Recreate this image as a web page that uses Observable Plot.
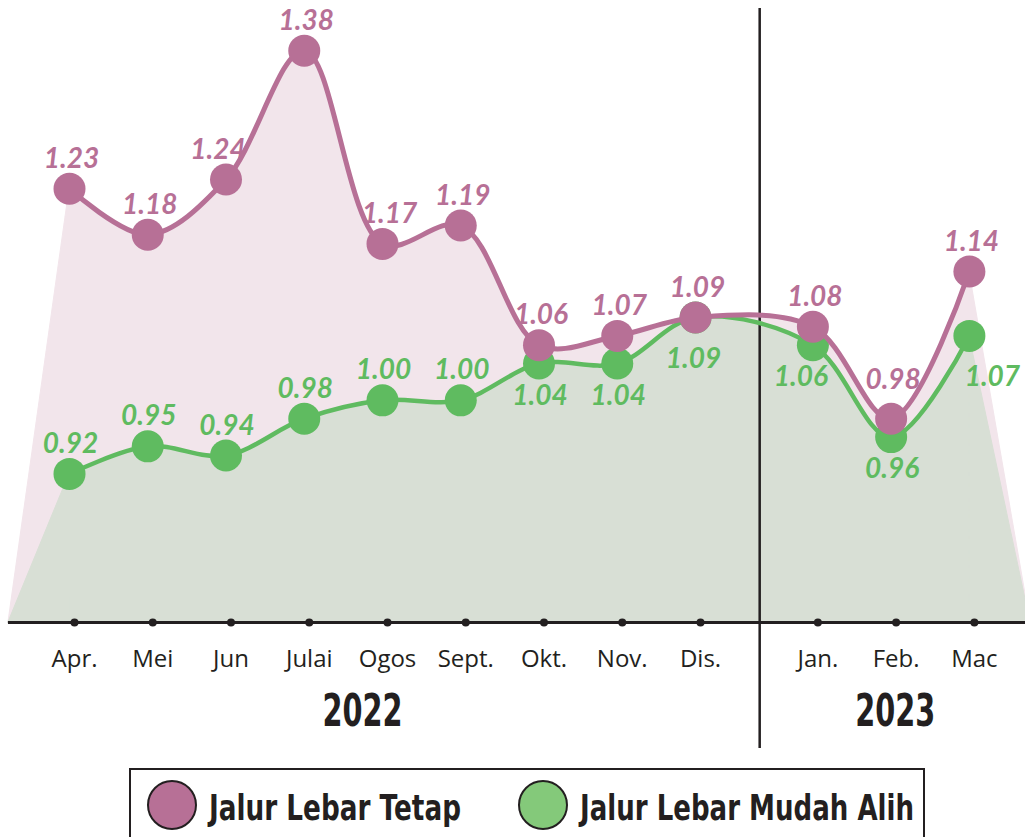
<!DOCTYPE html>
<html>
<head>
<meta charset="utf-8">
<script src="https://cdn.jsdelivr.net/npm/d3@7"></script>
<script src="https://cdn.jsdelivr.net/npm/@observablehq/plot@0.6"></script>
<style>
  html, body { margin: 0; padding: 0; background: #fff; overflow: hidden; }
  #chart svg { display: block; }
  #legend { position: relative; margin-left: 129px; width: 796px; height: 90px; box-sizing: border-box;
            border: 2.5px solid #231f20; }
  #legend .sw { position: absolute; top: 9.5px; width: 46px; height: 46px; border-radius: 50%; border: 2px solid #231f20; }
  #legend .lab { position: absolute; top: 20px; font-family: "DejaVu Sans", sans-serif;
                 font-weight: 700; font-size: 35px; line-height: 36px; color: #231f20; white-space: nowrap;
                 display: inline-block; transform-origin: 0 50%; }
</style>
</head>
<body>
<div id="chart"></div>
<div id="legend"></div>
<script>
// ---- data ----
const months = ["Apr.", "Mei", "Jun", "Julai", "Ogos", "Sept.", "Okt.", "Nov.", "Dis.", "Jan.", "Feb.", "Mac"];
const monthYears = [2022, 2022, 2022, 2022, 2022, 2022, 2022, 2022, 2022, 2023, 2023, 2023];
const tetap = [1.23, 1.18, 1.24, 1.38, 1.17, 1.19, 1.06, 1.07, 1.09, 1.08, 0.98, 1.14];
const mudahAlih = [0.92, 0.95, 0.94, 0.98, 1.00, 1.00, 1.04, 1.04, 1.09, 1.06, 0.96, 1.07];
const seriesNames = ["Jalur Lebar Tetap", "Jalur Lebar Mudah Alih"];
const yearLabels = [2022, 2023];

// ---- layout ----
const W = 1025, H = 768, FRAME_BOTTOM = 622;
const GAP = 0.5;        // extra space between the two years
const EXT = 0.78;       // how far the shaded areas run beyond first/last month
const DIVIDER = 8.82;   // year divider position
const yBase = 0.7585, yTop = 1.4346;
const xDomain = [-0.8818, 12.217];
const pink = "#b77096", pinkFill = "#f2e5eb";
const green = "#5fbb60", greenFill = "#d8dfd5";
const ink = "#231f20";
const condensed = "'DejaVu Sans', sans-serif";

const pos = i => i + (monthYears[i] === 2023 ? GAP : 0);
const yAt = px => yTop - px * (yTop - yBase) / FRAME_BOTTOM;

const mk = vals => vals.map((v, i) => ({i, x: pos(i), v, m: months[i]}));
const dT = mk(tetap), dM = mk(mudahAlih);
const n = months.length;
const edges = d => [
  [{x: d[0].x - EXT, v: yBase}, d[0]],
  [d[n - 1], {x: d[n - 1].x + EXT, v: yBase}]
];

function areaMarks(d, fill) {
  const opts = {x: "x", y1: () => yBase, y2: "v", fill, stroke: fill, strokeWidth: 1};
  return [
    Plot.areaY(d, {...opts, curve: "catmull-rom"}),
    ...edges(d).map(e => Plot.areaY(e, {...opts, curve: "linear"}))
  ];
}

const valFont = {fontFamily: "Lato, 'Open Sans', sans-serif", fontWeight: 700, fontStyle: "italic", fontSize: 28, lineAnchor: "bottom", textAnchor: "middle"};

// label placement tweaks
const pinkDy = d => d.m === "Feb." ? -30 : -21;
const pinkDx = d => d.m === "Jun" ? -8 : d.m === "Ogos" ? 7 : 2;
const greenBelow = d => d.i >= 6;
const greenDy = d => !greenBelow(d) ? -21 : (d.m === "Dis." || d.m === "Mac" ? 50 : 41);
const greenDx = d => d.m === "Mac" ? 23 : d.m === "Jan." ? -12 : d.m === "Dis." ? -2 : 1;

function labelMarks(d, fill, dyF, dxF) {
  const groups = d3.groups(d, e => dyF(e) + "|" + dxF(e));
  return groups.map(([k, g]) => Plot.text(g, {x: "x", y: "v", text: e => e.v.toFixed(2), fill,
    dy: dyF(g[0]), dx: dxF(g[0]), ...valFont}));
}

const years2 = yearLabels.map(y => {
  const idx = d3.range(n).filter(i => monthYears[i] === y);
  return {y, x: d3.mean(idx, pos)};
});
const yearFont = {frameAnchor: "bottom", dy: 103, lineAnchor: "bottom", fontFamily: condensed, fontWeight: 700, fontSize: 44, fill: ink};

const plot = Plot.plot({
  width: W, height: H,
  marginLeft: 0, marginRight: 0, marginTop: 0, marginBottom: H - FRAME_BOTTOM,
  x: {type: "linear", domain: xDomain, axis: null},
  y: {type: "linear", domain: [yBase, yTop], axis: null},
  style: {overflow: "visible"},
  marks: [
    ...areaMarks(dT, pinkFill),
    ...areaMarks(dM, greenFill),
    Plot.ruleY([yBase], {x1: dT[0].x - EXT, x2: xDomain[1], stroke: ink, strokeWidth: 3}),
    Plot.ruleX([DIVIDER], {y1: yAt(748), y2: yAt(8), stroke: ink, strokeWidth: 2.5}),
    Plot.dot(dT, {x: "x", frameAnchor: "bottom", dx: 5, r: 4, fill: ink}),
    Plot.line(dM, {x: "x", y: "v", curve: "catmull-rom", stroke: green, strokeWidth: 4.5}),
    Plot.dot(dM, {x: "x", y: "v", r: 16, fill: green}),
    Plot.line(dT, {x: "x", y: "v", curve: "catmull-rom", stroke: pink, strokeWidth: 5}),
    Plot.dot(dT, {x: "x", y: "v", r: 16, fill: pink}),
    ...labelMarks(dM, green, greenDy, greenDx),
    ...labelMarks(dT, pink, pinkDy, pinkDx),
    Plot.text(dT, {x: "x", text: "m", frameAnchor: "bottom", dx: 5, dy: 44, lineAnchor: "bottom",
      fontFamily: "'Open Sans', sans-serif", fontSize: 24, fill: ink}),
    Plot.text(years2.filter(d => d.y === 2022), {x: "x", text: d => String(d.y), dx: -20, ...yearFont}),
    Plot.text(years2.filter(d => d.y === 2023), {x: "x", text: d => String(d.y), dx: 4, ...yearFont})
  ]
});
document.getElementById("chart").appendChild(plot);

// narrow the year labels to a condensed look
const yearStrings = yearLabels.map(String);
d3.select(plot).selectAll("text")
  .filter(function () { return yearStrings.includes(this.textContent); })
  .attr("textLength", 80).attr("lengthAdjust", "spacingAndGlyphs");

// ---- legend ----
const legend = document.getElementById("legend");
const legendColors = ["#b77096", "#84c97a"];
const swLeft = [15.5, 386.5], labLeft = [77.5, 448.5], labWidth = [252, 334];
seriesNames.forEach((name, k) => {
  const sw = document.createElement("span");
  sw.className = "sw"; sw.style.left = swLeft[k] + "px"; sw.style.background = legendColors[k];
  const lab = document.createElement("span");
  lab.className = "lab"; lab.style.left = labLeft[k] + "px"; lab.textContent = name;
  legend.appendChild(sw); legend.appendChild(lab);
  const w = lab.getBoundingClientRect().width;
  lab.style.transform = `scaleX(${labWidth[k] / w})`;
});
</script>
</body>
</html>
